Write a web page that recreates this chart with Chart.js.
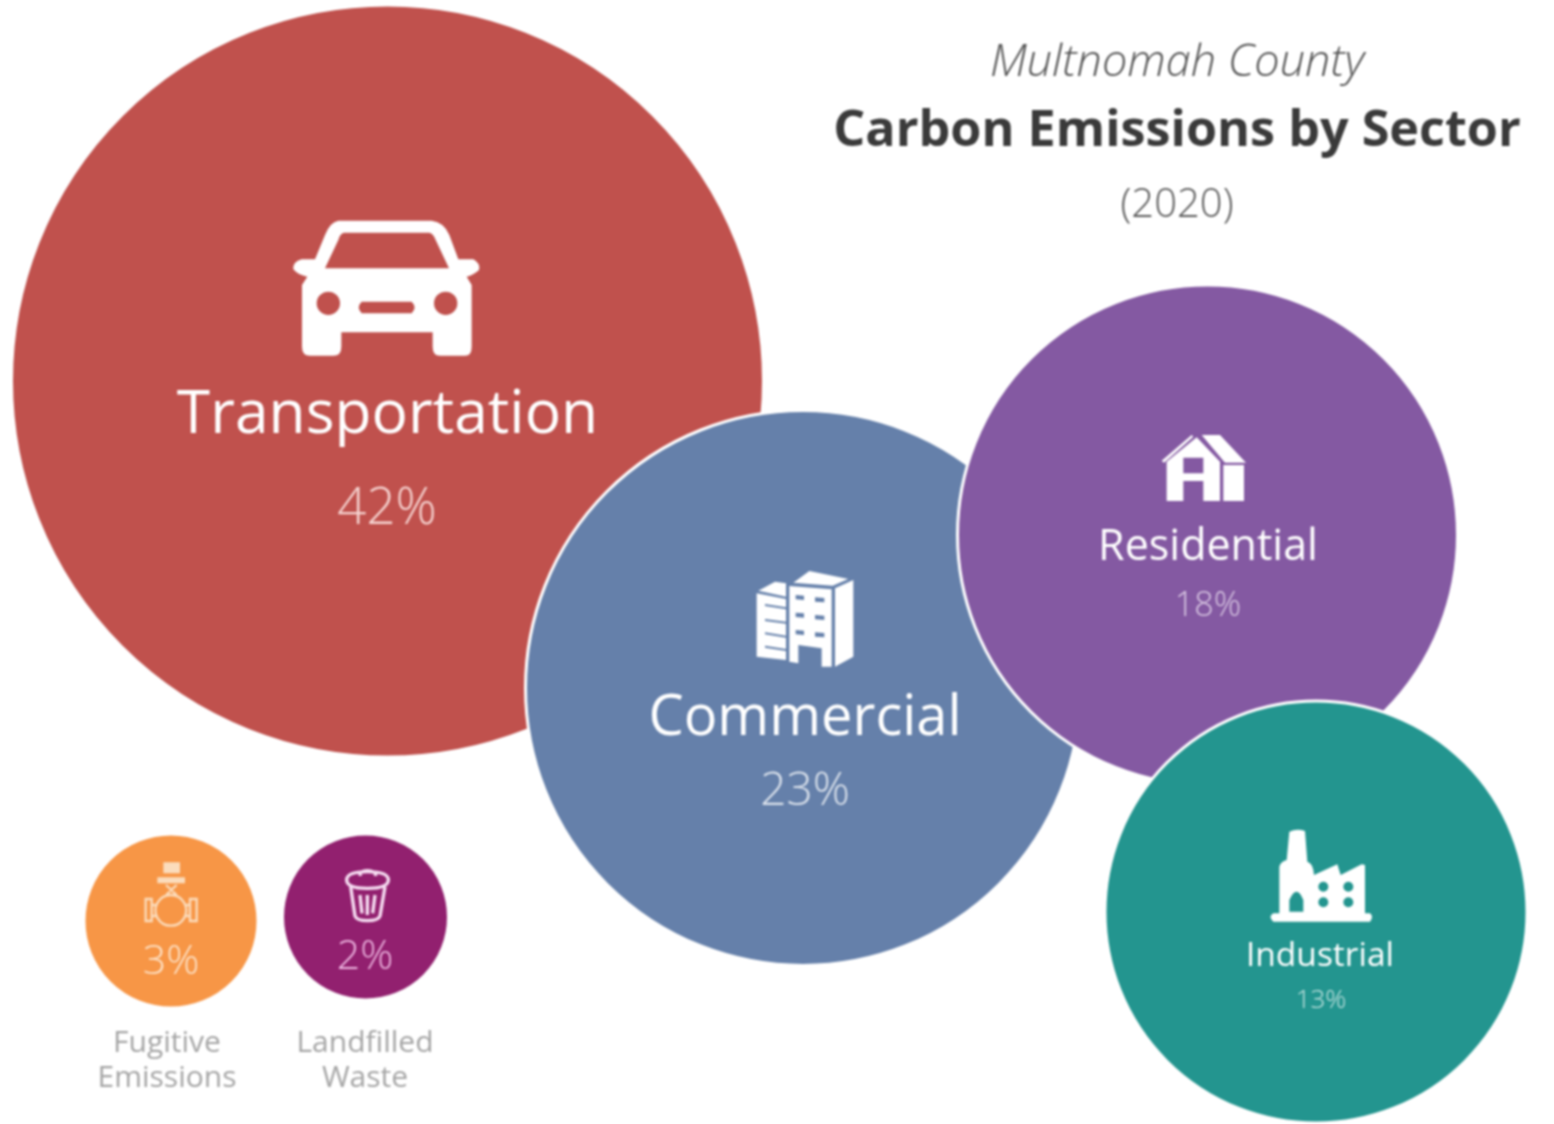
<!DOCTYPE html>
<html><head><meta charset="utf-8">
<style>html,body{margin:0;padding:0;background:#fff}canvas{display:block;filter:blur(.85px)}</style>
<script src="https://cdn.jsdelivr.net/npm/chart.js@4"></script></head>
<body><canvas id="c" width="1554" height="1124"></canvas>
<script>
// Data
const sectors=["Transportation","Commercial","Residential","Industrial","Fugitive Emissions","Landfilled Waste"];
const shares=[42,23,18,13,3,2];
const centerX=[387.5,803,1207.5,1316,171,365.5];
const centerY=[381,688,535,912,921,917];
const radii=[376,277.5,250,211,87,83];
const colors=["#c0514d","#6580aa","#8459a2","#23958f","#f79646","#92206f"];
const pctColors=["#f6d5d2","#dbe2ec","#d9c8e3","#c9e6e3","#fde3c9","#eeb8e2"];
// Text layout
const nameY=[433,735,560,966,null,null];
const nameX=[387.5,805,1208,1320,null,null];
const nameSize=[60.5,56,43,33.5,0,0];
const pctX=[387,805,1208,1321,171,365];
const pctY=[524,805,616,1008,974,969];
const pctSize=[51,46,34,26,41,41];
const outsideLines=[["Fugitive",167,1052],["Emissions",167,1087],["Landfilled",365,1052],["Waste",365,1087]];
const titleLines=[
 ["Multnomah County",1177,76,"italic 300 45px 'Open Sans'","#555555"],
 ["Carbon Emissions by Sector",1177,146,"700 50.3px 'Open Sans'","#3a3a3a"],
 ["(2020)",1177,217,"300 40px 'Open Sans'","#595959"]];
// Icons: shape paths in their own local units (3 units = 1 px), with local origin
const icons=[
 {at:[270,200],fill:"M205 62L485 62Q522 66 538 105L565 178L610 178Q632 190 627 210Q610 226 590 230L605 255L605 440Q605 467 585 467L510 467Q488 467 488 440L488 397L214 397L214 440Q214 467 190 467L120 467Q96 467 96 440L96 255L112 230Q85 226 70 208Q68 185 95 178L135 178L165 105Q180 66 205 62Z M222 98L478 98Q490 100 497 120L537 205L165 205L205 120Q210 100 222 98Z M140 310a35 35 0 1 0 70 0a35 35 0 1 0 -70 0Z M492 310a35 35 0 1 0 70 0a35 35 0 1 0 -70 0Z M275 305L425 305Q442 322 425 340L275 340Q258 322 275 305Z"},
 {at:[730,550],fill:"M178 108L305 118L305 350L275 350L275 295L205 285L205 340L178 335Z M197 135L222 137L222 150L197 148Z M255 142L283 144L283 157L255 155Z M197 188L222 190L222 203L197 201Z M255 195L283 197L283 210L255 208Z M197 240L222 242L222 255L197 253Z M255 247L283 249L283 262L255 260Z M315 115L370 90L370 320L315 350Z M190 98L238 63L355 87L308 107Z M85 122L135 95L168 100L168 140Z M80 130L168 147L168 330L80 320Z M105 162L168 172L168 178L105 168Z M105 207L168 215L168 221L105 213Z M105 247L168 257L168 263L105 253Z M105 287L168 297L168 303L105 293Z"},
 {at:[1140,420],fill:"M170 52L240 125L240 243L190 243L190 183L130 183L130 243L80 243L80 125Z M130 113L190 113L190 160L130 160Z M185 45L240 45L318 128L255 128Z M250 135L312 135L312 243L250 243Z M65 122L155 45L160 50L72 128Z"},
 {at:[1250,815],fill:"M118 50Q140 40 165 48L172 140Q190 145 192 180L262 148L272 180L335 148L345 150L345 295L360 295Q372 305 360 320L70 320Q53 305 70 295L88 295L88 155Q92 140 110 135Z M118 290L118 255Q140 205 160 255L160 290Z M205 215a15 15 0 1 0 30 0a15 15 0 1 0 -30 0Z M280 215a15 15 0 1 0 30 0a15 15 0 1 0 -30 0Z M205 262a15 15 0 1 0 30 0a15 15 0 1 0 -30 0Z M280 262a15 15 0 1 0 30 0a15 15 0 1 0 -30 0Z"},
 {at:[80,830],color:"#fbdcbc",fill:"M250 97L300 97L300 130L250 130Z M232 142L315 142L315 160L232 160Z",
  stroke:"M258 165L290 195M290 165L258 195M272 195a46 46 0 1 0 1 0Z M197 207L215 207L215 273L197 273Z M330 207L350 207L350 273L330 273Z M215 225L232 225M215 258L232 258M313 225L330 225M313 258L330 258"},
 {at:[80,830],color:"#f7dff3",width:10,stroke:"M800 150Q800 125 862 125Q925 125 925 150Q925 175 862 175Q800 175 800 150Z M840 138Q840 122 862 122Q885 122 888 138 M812 170L825 258Q830 272 862 272Q895 272 900 258L915 170 M840 195L846 250M862 195L862 255M885 195L878 250"}
];
function tx(ctx,s,x,y,font,color){ctx.font=font;ctx.fillStyle=color;ctx.textAlign="center";ctx.textBaseline="alphabetic";ctx.fillText(s,x,y);}
const overlay={id:"overlay",afterDatasetsDraw(chart){
 const {ctx,scales:{x,y}}=chart;ctx.save();
 sectors.forEach((s,i)=>{
  if(nameSize[i]) tx(ctx,s,x.getPixelForValue(nameX[i]),y.getPixelForValue(nameY[i]),`400 ${nameSize[i]}px 'Open Sans'`,"#ffffff");
  tx(ctx,shares[i]+"%",x.getPixelForValue(pctX[i]),y.getPixelForValue(pctY[i]),`300 ${pctSize[i]}px 'Open Sans'`,pctColors[i]);
 });
 outsideLines.forEach(l=>tx(ctx,l[0],x.getPixelForValue(l[1]),y.getPixelForValue(l[2]),"400 30px 'Open Sans'","#a5a5a5"));
 titleLines.forEach(l=>tx(ctx,l[0],x.getPixelForValue(l[1]),y.getPixelForValue(l[2]),l[3],l[4]));
 icons.forEach(ic=>{
  ctx.save();ctx.translate(x.getPixelForValue(ic.at[0]),y.getPixelForValue(ic.at[1]));ctx.scale(1/3,1/3);
  ctx.fillStyle=ic.color||"#ffffff";ctx.strokeStyle=ic.color||"#ffffff";ctx.lineWidth=ic.width||7;
  if(ic.fill)ctx.fill(new Path2D(ic.fill),"evenodd");
  if(ic.stroke)ctx.stroke(new Path2D(ic.stroke));
  ctx.restore();
 });
 ctx.restore();
}};
new Chart(document.getElementById("c"),{type:"bubble",
 data:{labels:sectors,datasets:[{label:"Share of emissions",
  data:shares.map((v,i)=>({x:centerX[i],y:centerY[i],r:radii[i],share:v})),
  backgroundColor:colors,borderColor:"#ffffff",borderWidth:3,hoverRadius:0,clip:false}]},
 options:{responsive:false,animation:false,layout:{padding:0,autoPadding:false},events:[],
  plugins:{legend:{display:false},tooltip:{enabled:false},title:{display:false}},
  scales:{x:{type:"linear",display:false,min:0,max:1554},y:{type:"linear",display:false,min:0,max:1124,reverse:true}}},
 plugins:[overlay]});
</script></body></html>
